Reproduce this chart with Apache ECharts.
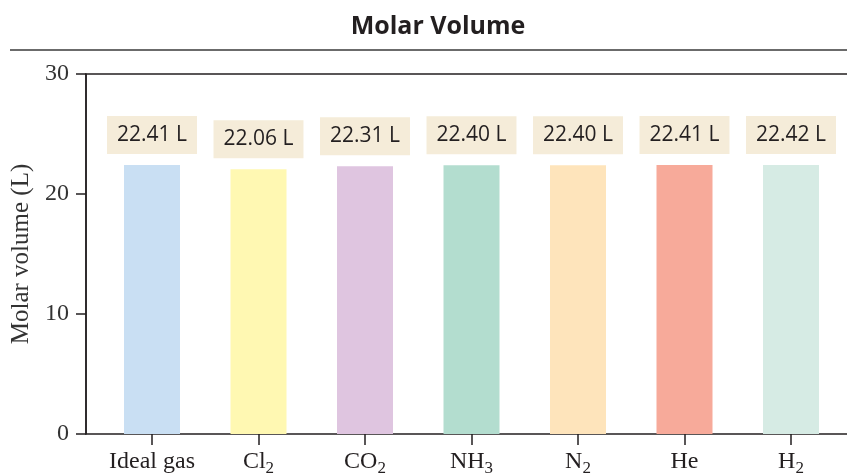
<!DOCTYPE html>
<html><head><meta charset="utf-8">
<script src="https://cdn.jsdelivr.net/npm/echarts@6/dist/echarts.min.js"></script>
<style>html,body{margin:0;padding:0;background:#fff}#c{width:847px;height:474px}</style>
</head><body><div id="c"></div>
<script>
const titleText = 'Molar Volume';
const axisName = 'Molar volume (L)';
const categories = ['Ideal gas', 'Cl2', 'CO2', 'NH3', 'N2', 'He', 'H2'];
const values = [22.41, 22.06, 22.31, 22.40, 22.40, 22.41, 22.42];
const palette = ['#c9dff3', '#fff8b2', '#dfc5e0', '#b3ddcf', '#fee4bb', '#f7aa9a', '#d6ebe4'];
const yTicks = [0, 10, 20, 30];

const chart = echarts.init(document.getElementById('c'));
const serif = '"Liberation Serif", "DejaVu Serif", serif';
const sans = '"Open Sans", "Noto Sans", sans-serif';
const dark = '#231f20';

function subFmt(s) {
  return s.replace(/(\d+)/g, '{sub|$1}');
}

chart.setOption({
  animation: false,
  title: {
    text: titleText, left: 433, top: 9, textAlign: 'center',
    textStyle: { fontFamily: sans, fontWeight: 'bold', fontSize: 25, color: dark }
  },
  graphic: [{
    type: 'line', shape: { x1: 10, y1: 50, x2: 847, y2: 50 },
    style: { stroke: '#3a3a3a', lineWidth: 1.5 }
  }],
  grid: [
    { left: 86, right: -2, top: 74, bottom: 40, show: true, borderColor: dark, borderWidth: 1.5, backgroundColor: 'transparent', containLabel: false, outerBoundsMode: 'none' },
    { left: 98.75, right: 2.75, top: 74, bottom: 40, containLabel: false, outerBoundsMode: 'none' }
  ],
  xAxis: [
    { gridIndex: 0, type: 'value', show: false, min: 0, max: 1 },
    {
      gridIndex: 1, type: 'category', data: categories,
      axisLine: { show: false },
      axisTick: { show: true, alignWithLabel: true, length: 11, lineStyle: { color: dark, width: 1.5 } },
      axisLabel: {
        interval: 0, margin: 8, fontFamily: serif, fontSize: 24, lineHeight: 40, color: dark,
        verticalAlign: 'top',
        formatter: v => subFmt(v),
        rich: { sub: { fontFamily: serif, fontSize: 17, lineHeight: 17, color: dark, padding: [14, 0, 0, 0] } }
      }
    }
  ],
  yAxis: [
    {
      gridIndex: 0, type: 'value', min: yTicks[0], max: yTicks[yTicks.length - 1], interval: 10,
      name: axisName, nameLocation: 'middle', nameGap: 49,
      nameTextStyle: { fontFamily: serif, fontSize: 25, color: '#333' },
      axisLine: { show: true, lineStyle: { color: dark, width: 1.5 } },
      axisTick: { show: true, length: 10, lineStyle: { color: dark, width: 1.5 } },
      axisLabel: { margin: 17, fontFamily: serif, fontSize: 24, color: '#333' },
      splitLine: { show: false }
    },
    { gridIndex: 1, type: 'value', min: 0, max: 30, show: false }
  ],
  series: [{
    type: 'bar', xAxisIndex: 1, yAxisIndex: 1,
    barWidth: 56,
    data: values.map((v, i) => ({ value: v, itemStyle: { color: palette[i] } })),
    label: {
      show: true, position: 'top', distance: 11,
      formatter: p => p.value.toFixed(2) + ' L',
      fontFamily: sans, fontSize: 21, lineHeight: 24, color: dark,
      backgroundColor: '#f5ecd9', padding: [7, 10, 7, 10]
    }
  }]
});
</script></body></html>
